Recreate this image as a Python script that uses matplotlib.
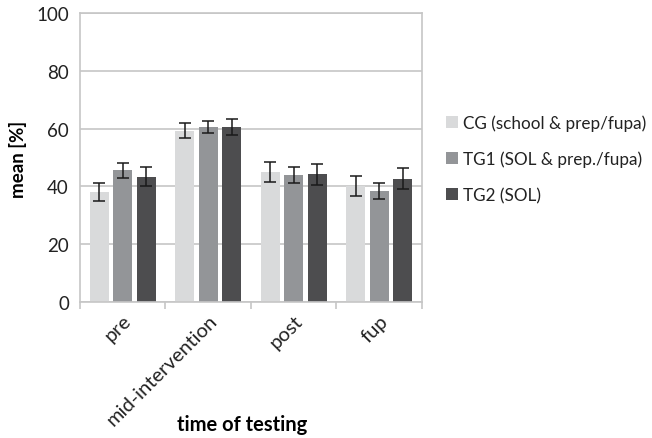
import matplotlib.pyplot as plt
import numpy as np

plt.rcParams['font.family'] = ['Lato', 'DejaVu Sans']

# data
categories = ["pre", "mid-intervention", "post", "fup"]
groups = ["CG (school & prep/fupa)", "TG1 (SOL & prep./fupa)", "TG2 (SOL)"]
cg_mean = [38.0, 59.3, 44.9, 40.1]
tg1_mean = [45.5, 60.6, 43.8, 38.5]
tg2_mean = [43.4, 60.6, 44.2, 42.6]
cg_err = [3.2, 2.6, 3.5, 3.6]
tg1_err = [2.6, 2.1, 2.8, 2.8]
tg2_err = [3.4, 2.8, 3.7, 3.6]
yticks = [0, 20, 40, 60, 80, 100]

colors = ["#d9dadb", "#939598", "#4d4d4f"]
grid_col = "#c6c6c6"

fig = plt.figure(figsize=(6.52, 4.39), dpi=100)
ax = fig.add_axes([0.1227, 0.31, 0.5245, 0.658])

x = np.arange(len(categories))
width = 0.222
step = 0.277
means = [cg_mean, tg1_mean, tg2_mean]
errs = [cg_err, tg1_err, tg2_err]
for i in range(3):
    ax.bar(x + (i - 1) * step, means[i], width, color=colors[i], label=groups[i],
           yerr=errs[i], capsize=4.5,
           error_kw=dict(ecolor="#1a1a1a", elinewidth=1.1, capthick=1.1), zorder=2)

ax.set_xlim(-0.5, len(categories) - 0.5)
ax.set_ylim(0, 100)
ax.set_yticks(yticks)
ax.yaxis.grid(True, color=grid_col, linewidth=1.2, zorder=0)
ax.set_axisbelow(True)
ax.tick_params(axis='y', length=0, labelsize=13.5, pad=8, colors="#222222")

ax.set_xticks(x)
ax.set_xticklabels(categories, rotation=45, ha='right', rotation_mode='anchor', fontsize=14.5, color="#222222")
ax.set_xticks(np.arange(len(categories) + 1) - 0.5, minor=True)
ax.tick_params(axis='x', which='major', length=0, pad=7)
ax.tick_params(axis='x', which='minor', length=5, color=grid_col, width=1.2)

for s in ax.spines.values():
    s.set_color(grid_col)
    s.set_linewidth(1.2)

ax.set_ylabel("mean [%]", fontsize=13.5, fontweight='bold')
ax.yaxis.set_label_coords(27 / 652, 1 - 159 / 439, transform=fig.transFigure)
ax.set_xlabel("time of testing", fontsize=14.5, fontweight='bold')
ax.xaxis.set_label_coords(242 / 652, 1 - 425 / 439, transform=fig.transFigure)
ax.xaxis.label.set_va('center')

ax.legend(loc='center left', bbox_to_anchor=(1.025, 0.495), frameon=False,
          fontsize=12.3, handlelength=0.7, handleheight=0.7, handletextpad=0.3,
          labelspacing=1.15, labelcolor="#222222")

fig.savefig("out.png", dpi=100)
